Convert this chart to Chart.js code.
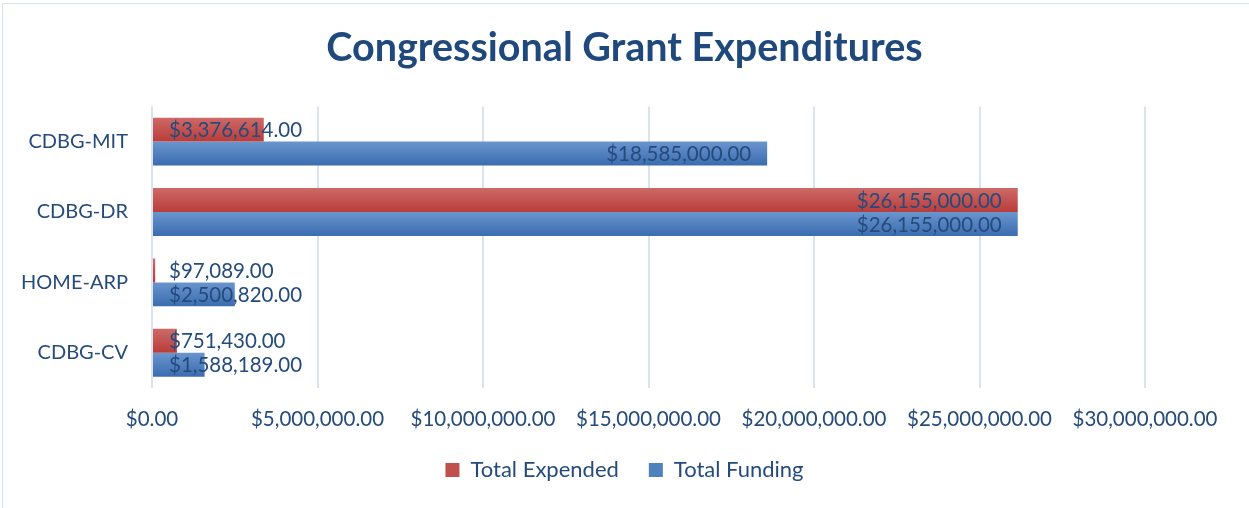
<!DOCTYPE html>
<html>
<head>
<meta charset="utf-8">
<script src="https://cdn.jsdelivr.net/npm/chart.js@4.4.1/dist/chart.umd.min.js"></script>
<style>
  body { margin: 0; background: #fff; }
  #wrap { position: relative; width: 1249px; height: 508px; }
  #frame { position: absolute; left: 2px; top: 3px; right: -2px; bottom: -2px; border: 1px solid #D6E0EE; pointer-events: none; }
</style>
</head>
<body>
<div id="wrap">
  <canvas id="myChart" width="1249" height="508"></canvas>
  <div id="frame"></div>
</div>
<script>
const programs = ['CDBG-MIT', 'CDBG-DR', 'HOME-ARP', 'CDBG-CV'];
const totalExpended = [3376614, 26155000, 97089, 751430];
const totalFunding = [18585000, 26155000, 2500820, 1588189];

const textColor = '#254B7D';
const fontFamily = 'Lato, "Noto Sans", sans-serif';

function money(v) {
    return '$' + Number(v).toLocaleString('en-US', {minimumFractionDigits: 2, maximumFractionDigits: 2});
}

// shade each bar top-light to bottom-dark like the office chart
const barShade = {
    id: 'barShade',
    beforeDatasetsDraw(chart) {
        const ctx = chart.ctx;
        const tones = [['#CD6a67', '#B93C3A'], ['#6A95CE', '#3A6CAF']];
        chart.data.datasets.forEach((ds, di) => {
            chart.getDatasetMeta(di).data.forEach(bar => {
                const h = bar.height / 2;
                const g = ctx.createLinearGradient(0, bar.y - h, 0, bar.y + h);
                g.addColorStop(0, tones[di][0]);
                g.addColorStop(1, tones[di][1]);
                bar.options.backgroundColor = g;
            });
        });
    }
};

// value labels: inside end, but never left of the base
const valueLabels = {
    id: 'valueLabels',
    afterDatasetsDraw(chart) {
        const ctx = chart.ctx;
        ctx.save();
        ctx.font = '20.5px ' + fontFamily;
        ctx.fillStyle = textColor;
        ctx.textBaseline = 'middle';
        ctx.textAlign = 'left';
        chart.data.datasets.forEach((ds, di) => {
            chart.getDatasetMeta(di).data.forEach((bar, i) => {
                const txt = money(ds.data[i]);
                const w = ctx.measureText(txt).width;
                const x = Math.max(bar.base + 16, bar.x - 16 - w);
                ctx.fillText(txt, x, bar.y + 1);
            });
        });
        ctx.restore();
    }
};

const ctx = document.getElementById('myChart').getContext('2d');
const grantChart = new Chart(ctx, {
    type: 'bar',
    data: {
        labels: programs,
        datasets: [{
            label: 'Total Expended',
            data: totalExpended,
            backgroundColor: () => '#C0504D'
        }, {
            label: 'Total Funding',
            data: totalFunding,
            backgroundColor: () => '#4F81BD'
        }]
    },
    plugins: [barShade, valueLabels],
    options: {
        indexAxis: 'y',
        responsive: false,
        animation: false,
        barPercentage: 1,
        categoryPercentage: 0.68,
        layout: {
            padding: {top: 25, left: 0, right: 0, bottom: 17}
        },
        plugins: {
            title: {
                display: true,
                text: 'Congressional Grant Expenditures',
                color: '#1F497D',
                font: {family: fontFamily, size: 39.5, weight: 'bold'},
                padding: {top: 0, bottom: 34}
            },
            legend: {
                position: 'bottom',
                labels: {
                    color: textColor,
                    font: {family: fontFamily, size: 22},
                    boxWidth: 14,
                    boxHeight: 14,
                    padding: 30,
                    generateLabels: function(chart) {
                        const tones = ['#C0504D', '#4F81BD'];
                        return chart.data.datasets.map((ds, i) => ({
                            text: ds.label,
                            fillStyle: tones[i],
                            strokeStyle: tones[i],
                            lineWidth: 0,
                            fontColor: textColor,
                            datasetIndex: i
                        }));
                    }
                }
            },
            tooltip: {enabled: false}
        },
        scales: {
            x: {
                min: 0,
                max: 30000000,
                ticks: {
                    stepSize: 5000000,
                    color: textColor,
                    font: {family: fontFamily, size: 20.5},
                    padding: 19,
                    maxRotation: 0,
                    callback: function(value) {
                        return money(value);
                    }
                },
                grid: {
                    color: '#D9E3F1',
                    lineWidth: 2,
                    drawTicks: false
                },
                border: {display: false},
                afterFit: function(scale) {
                    scale.height = 41;
                    scale.paddingRight = 104;
                }
            },
            y: {
                ticks: {
                    color: textColor,
                    font: {family: fontFamily, size: 20},
                    padding: 16
                },
                grid: {display: false},
                border: {display: false},
                afterFit: function(scale) {
                    scale.width = 152;
                }
            }
        }
    }
});
</script>
</body>
</html>
